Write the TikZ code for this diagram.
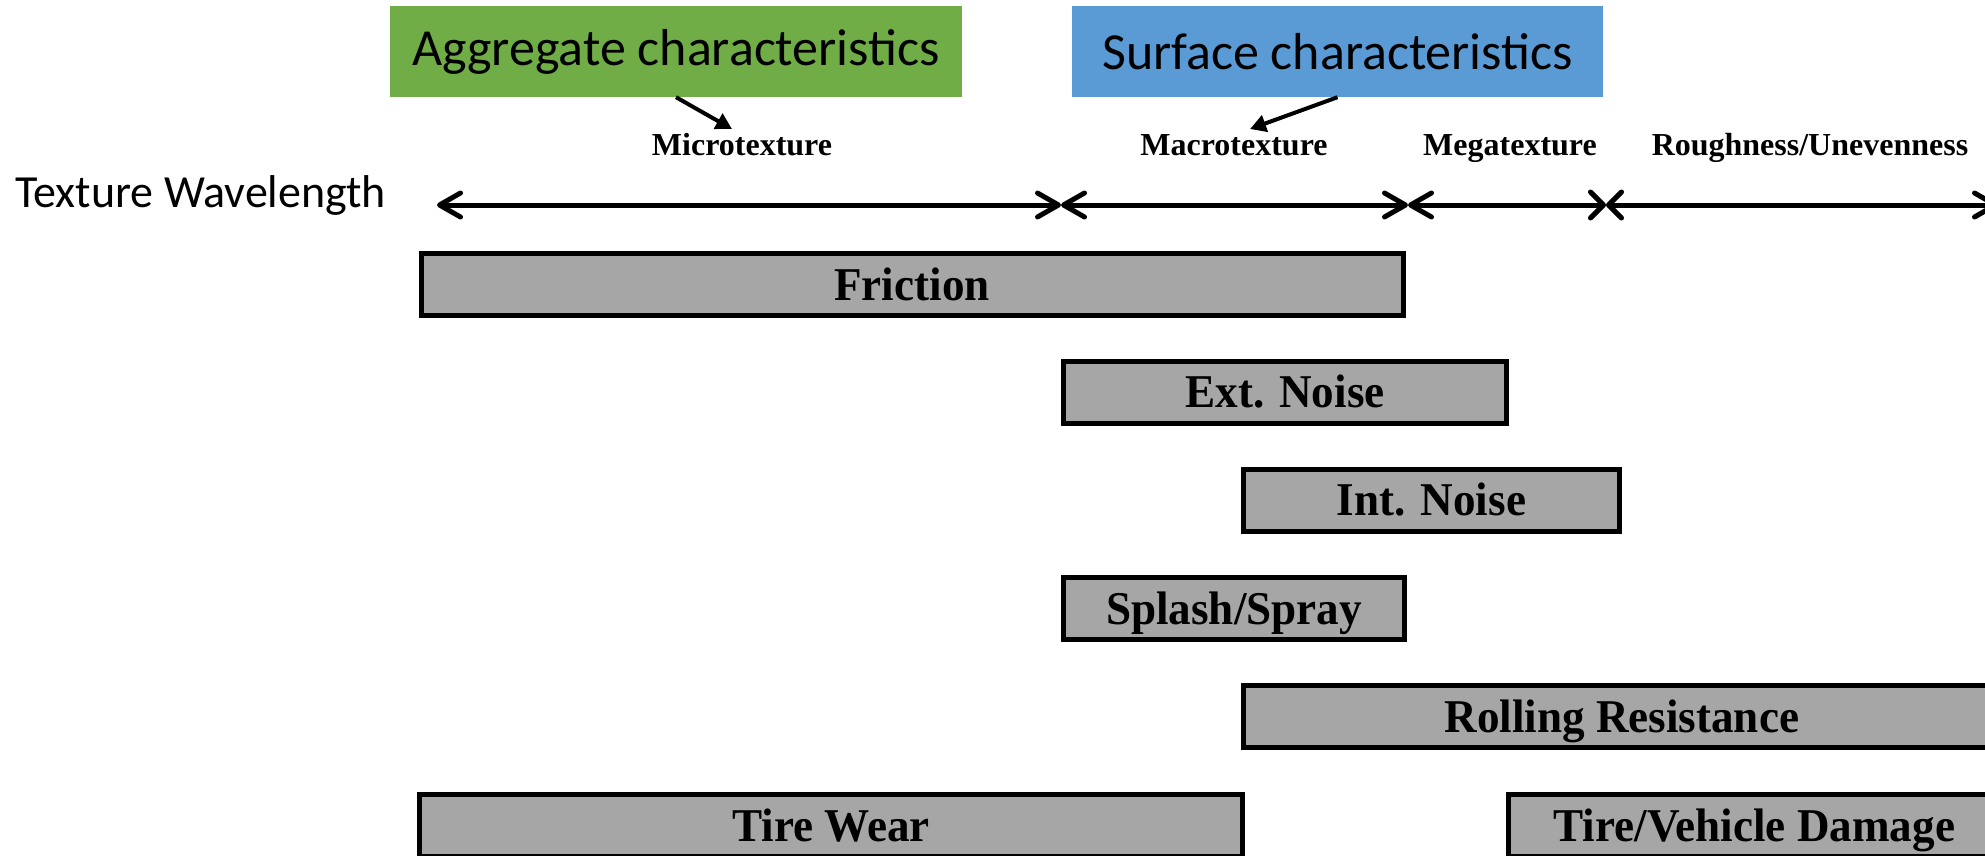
\documentclass[tikz,border=0pt]{standalone}
\usepackage{fontspec}
\setmainfont{Carlito}
\newfontfamily\tnr[FakeStretch=0.96]{Liberation Serif}
\newfontfamily\tnrlab{Liberation Serif}
\usetikzlibrary{arrows.meta}
\definecolor{agggreen}{HTML}{70AD47}
\definecolor{surfblue}{HTML}{5B9BD5}
\definecolor{boxgray}{HTML}{A6A6A6}
\tikzset{
  longbarb/.tip={Straight Barb[round,length=21pt,width=24pt]},
  shortbarb/.tip={Straight Barb[round,length=13pt,width=26pt]}
}
\begin{document}
\begin{tikzpicture}[x=1pt,y=-1pt,
  catbox/.style={fill=#1, minimum height=91pt, inner sep=0pt, font=\fontsize{52}{60}\selectfont},
  rangebox/.style={draw=black, line width=5pt, fill=boxgray, minimum height=62pt, inner sep=0pt,
    text height=31pt, text depth=0pt, font=\tnr\bfseries\fontsize{47}{52}\selectfont},
  scalelabel/.style={anchor=base, inner sep=0pt, font=\tnrlab\bfseries\fontsize{32}{36}\selectfont},
  axisarrow/.style={line width=5pt, line cap=round},
  callout/.style={line width=4pt, -{Triangle[length=16pt,width=17pt]}}
]
\useasboundingbox (0,0) rectangle (1985,856);
\clip (0,0) rectangle (1985,856);
\fill[white] (0,0) rectangle (1985,856);

% category boxes
\node[catbox=agggreen, minimum width=572pt] (agg) at (676,51.5) {Aggregate characteristics};
\node[catbox=surfblue, minimum width=531pt] (surf) at (1337.5,51.5) {Surface characteristics};

% scale labels
\node[scalelabel] (micro) at (742,155) {Microtexture};
\node[scalelabel] (macro) at (1234,155) {Macrotexture};
\node[scalelabel] (mega) at (1510,155) {Megatexture};
\node[scalelabel] (rough) at (1810,155) {Roughness/Unevenness};

\coordinate (microtip) at (732,129);
\coordinate (macrotip) at (1250,129);
\draw[callout] (agg.south) -- (microtip);
\draw[callout] (surf.south) -- (macrotip);

% axis
\node[anchor=base west, inner sep=0pt, font=\fontsize{46}{52}\selectfont] (twl) at (15,207) {Texture Wavelength};
\coordinate (a0) at (437,205);
\coordinate (a1) at (1061,205);
\coordinate (a2) at (1408,205);
\coordinate (a3) at (1606,205);
\coordinate (a4) at (1998,205);
\draw[axisarrow, longbarb-longbarb] (a0) -- (a1);
\draw[axisarrow, longbarb-longbarb] (a1) -- (a2);
\draw[axisarrow, longbarb-shortbarb] (a2) -- (a3);
\draw[axisarrow, shortbarb-longbarb] (a3) -- (a4);

% range boxes
\node[rangebox, minimum width=982pt] (friction) at (912,284.5) {Friction};
\node[rangebox, minimum width=443pt] (extnoise) at (1285,392) {Ext. Noise};
\node[rangebox, minimum width=376pt] (intnoise) at (1431.5,500) {Int. Noise};
\node[rangebox, minimum width=341pt] (splash) at (1234,608.5) {Splash/Spray};
\node[rangebox, minimum width=756.5pt] (rolling) at (1621.75,716.5) {Rolling Resistance};
\node[rangebox, minimum width=823pt] (tirewear) at (831,825.5) {Tire Wear};
\node[rangebox, minimum width=491.5pt] (damage) at (1754.25,825.5) {Tire/Vehicle Damage};
\end{tikzpicture}
\end{document}
